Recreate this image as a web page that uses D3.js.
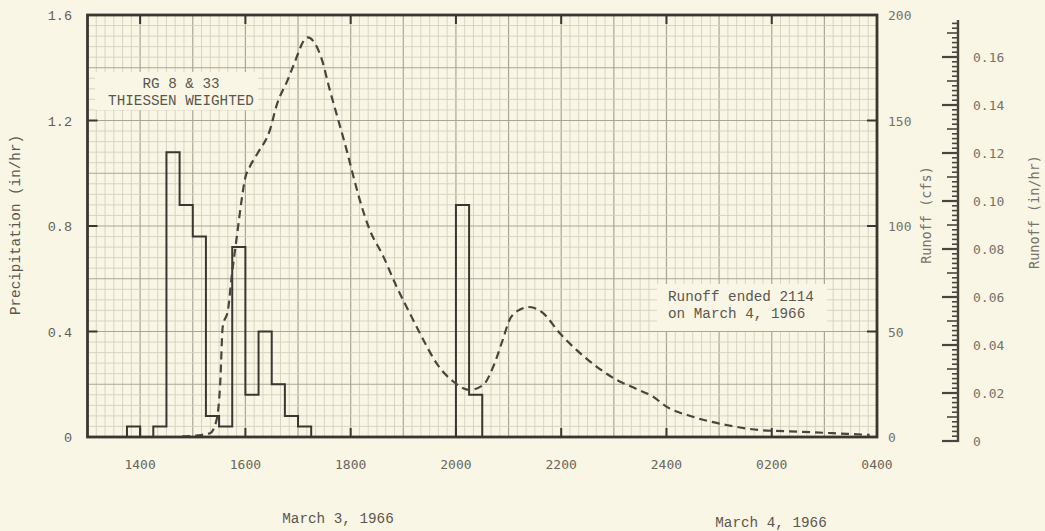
<!DOCTYPE html>
<html>
<head>
<meta charset="utf-8">
<script src="https://cdn.jsdelivr.net/npm/d3@7"></script>
<style>
  html, body { margin: 0; padding: 0; background: #faf6e5; }
  svg { display: block; }
</style>
</head>
<body>
<svg id="chart" width="1045" height="531"></svg>
<script>
// Precipitation, 15-minute rates (in/hr); hours past midnight of March 3
const precipHour = [13.5, 13.75, 14.0, 14.25, 14.5, 14.75, 15.0, 15.25, 15.5, 15.75,
                    16.0, 16.25, 16.5, 16.75, 17.0, 17.25, 20.0, 20.25, 20.5];
const precipRate = [0, 0.04, 0, 0.04, 1.08, 0.88, 0.76, 0.08, 0.04, 0.72,
                    0.16, 0.40, 0.20, 0.08, 0.04, 0, 0.88, 0.16, 0];

// Runoff hydrograph (cfs)
const runoffHour = [14.8, 15.1, 15.33, 15.46, 15.52, 15.57, 15.67, 15.74, 15.83, 15.93,
                    15.99, 16.09, 16.24, 16.47, 16.59, 16.81, 16.91, 17.18, 17.45, 17.60,
                    17.76, 17.92, 18.05, 18.17, 18.36, 18.62, 18.87, 19.12, 19.38, 19.63,
                    19.95, 20.26, 20.52, 20.71, 20.89, 21.02, 21.21, 21.40, 21.65, 21.97,
                    22.29, 22.67, 23.05, 23.43, 23.74, 24.0, 24.5, 25.14, 25.77, 26.53,
                    27.16, 27.86];
const runoffCfs  = [0.3, 0.8, 1.8, 8.9, 24.7, 52.4, 60.3, 76.2, 93.6, 112.6,
                    122.1, 128.4, 134.8, 145.8, 156.9, 169.6, 175.9, 189.4, 179.1, 164.8,
                    150.6, 136.3, 123.7, 112.6, 98.3, 85.6, 71.4, 58.8, 46.1, 35.0,
                    26.3, 22.3, 24.7, 33.4, 46.1, 55.6, 60.3, 61.6, 58.8, 49.3,
                    41.3, 33.4, 27.1, 22.8, 19.2, 14.4, 9.6, 5.7, 3.3, 2.5,
                    1.8, 1.0];

// Axis ticks and labels
const xTickHours  = [14, 16, 18, 20, 22, 24, 26, 28];
const xTickLabels = ["1400", "1600", "1800", "2000", "2200", "2400", "0200", "0400"];
const precipTicks = [0, 0.4, 0.8, 1.2, 1.6];
const precipTickLabels = ["0", "0.4", "0.8", "1.2", "1.6"];
const cfsTicks = [0, 50, 100, 150, 200];
const depthTicks = [0, 0.02, 0.04, 0.06, 0.08, 0.10, 0.12, 0.14, 0.16];
const depthTickLabels = ["0", "0.02", "0.04", "0.06", "0.08", "0.10", "0.12", "0.14", "0.16"];

const svg = d3.select("#chart");
const L = 87.5, R = 877, T = 15, B = 437;

const x = d3.scaleLinear().domain([13, 28]).range([L, R]);
const yP = d3.scaleLinear().domain([0, 1.6]).range([B, T]);
const yQ = d3.scaleLinear().domain([0, 200]).range([B, T]);
const yD = d3.scaleLinear().domain([0, 0.16]).range([441, 57]);

const mono = "'Liberation Mono', 'DejaVu Sans Mono', monospace";
const sansMono = "'DejaVu Sans Mono', 'Liberation Mono', monospace";

// background
svg.append("rect").attr("width", 1045).attr("height", 531).attr("fill", "#faf6e5");

// graph-paper grid: 10-minute by 0.04 in/hr cells, heavier every hour / 0.2 in/hr
const grid = svg.append("g");
const fineX = d3.range(13, 28.0001, 1 / 6);
const fineY = d3.range(0, 1.6001, 0.04);
const isHour = d => Math.abs(d - Math.round(d)) < 1e-6;
const isMajorY = d => Math.abs(d / 0.2 - Math.round(d / 0.2)) < 1e-6;
grid.selectAll("line.fx").data(fineX).join("line")
  .attr("x1", d => x(d)).attr("x2", d => x(d)).attr("y1", T).attr("y2", B)
  .attr("stroke", d => isHour(d) ? "#aaa594" : "#d5d0bd")
  .attr("stroke-width", d => isHour(d) ? 1.2 : 0.9);
grid.selectAll("line.fy").data(fineY).join("line")
  .attr("x1", L).attr("x2", R).attr("y1", d => yP(d)).attr("y2", d => yP(d))
  .attr("stroke", d => isMajorY(d) ? "#aaa594" : "#d5d0bd")
  .attr("stroke-width", d => isMajorY(d) ? 1.2 : 0.9);

// note panels
svg.append("rect").attr("x", 95).attr("y", 72).attr("width", 163).attr("height", 38).attr("fill", "#faf6e5");
svg.append("rect").attr("x", 657).attr("y", 284).attr("width", 170).attr("height", 47).attr("fill", "#faf6e5");

const noteStyle = sel => sel.attr("font-family", mono).attr("font-size", 14.3).attr("fill", "#5a564f");
svg.append("text").attr("x", 181).attr("y", 88).attr("text-anchor", "middle").text("RG 8 & 33").call(noteStyle);
svg.append("text").attr("x", 181).attr("y", 105).attr("text-anchor", "middle").text("THIESSEN WEIGHTED").call(noteStyle);
svg.append("text").attr("x", 668).attr("y", 301).text("Runoff ended 2114").call(noteStyle);
svg.append("text").attr("x", 668).attr("y", 318).text("on March 4, 1966").call(noteStyle);

// precipitation histogram
const stepLine = d3.line().x((d, i) => x(precipHour[i])).y(d => yP(d)).curve(d3.curveStepAfter);
svg.append("path").attr("d", stepLine(precipRate))
  .attr("fill", "none").attr("stroke", "#3a3631").attr("stroke-width", 2);

// runoff hydrograph
const runLine = d3.line().x((d, i) => x(runoffHour[i])).y(d => yQ(d)).curve(d3.curveMonotoneX);
svg.append("path").attr("d", runLine(runoffCfs))
  .attr("fill", "none").attr("stroke", "#48443e").attr("stroke-width", 2.2)
  .attr("stroke-dasharray", "8,5");

// frame
svg.append("rect").attr("x", L).attr("y", T).attr("width", R - L).attr("height", B - T)
  .attr("fill", "none").attr("stroke", "#3b3631").attr("stroke-width", 2.8);

// inward ticks on frame
const tk = svg.append("g").attr("stroke", "#3b3631").attr("stroke-width", 2);
tk.selectAll("line.bt").data(xTickHours.slice(0, -1)).join("line")
  .attr("x1", d => x(d)).attr("x2", d => x(d)).attr("y1", B).attr("y2", B - 9);
tk.selectAll("line.tt").data(xTickHours.slice(0, -1)).join("line")
  .attr("x1", d => x(d)).attr("x2", d => x(d)).attr("y1", T).attr("y2", T + 9);
tk.selectAll("line.lt").data(precipTicks.slice(1, -1)).join("line")
  .attr("x1", L).attr("x2", L + 10).attr("y1", d => yP(d)).attr("y2", d => yP(d));
tk.selectAll("line.rt").data(cfsTicks.slice(1, -1)).join("line")
  .attr("x1", R).attr("x2", R - 10).attr("y1", d => yQ(d)).attr("y2", d => yQ(d));

// left axis labels
svg.append("g").selectAll("text").data(precipTicks).join("text")
  .attr("x", 72).attr("y", d => yP(d) + 5).attr("text-anchor", "end")
  .attr("font-family", mono).attr("font-size", 13.5).attr("fill", "#625e57")
  .text((d, i) => precipTickLabels[i]);

// bottom axis labels
svg.append("g").selectAll("text").data(xTickHours).join("text")
  .attr("x", d => x(d)).attr("y", 469).attr("text-anchor", "middle")
  .attr("font-family", sansMono).attr("font-size", 13).attr("fill", "#6a665e")
  .text((d, i) => xTickLabels[i]);

// right cfs labels
svg.append("g").selectAll("text").data(cfsTicks).join("text")
  .attr("x", 888).attr("y", d => yQ(d) + 5)
  .attr("font-family", sansMono).attr("font-size", 13).attr("fill", "#77736a")
  .text(d => d);

// runoff depth ruler
const ruler = svg.append("g").attr("stroke", "#4a463f");
ruler.append("line").attr("x1", 958).attr("x2", 958).attr("y1", 20).attr("y2", 442).attr("stroke-width", 2.4);
const minor = d3.range(0, 0.1755, 0.002);
ruler.selectAll("line.m").data(minor).join("line")
  .attr("x1", 958)
  .attr("x2", d => {
    const k = Math.round(d / 0.002);
    return k % 10 === 0 ? 942 : (k % 5 === 0 ? 947 : 952);
  })
  .attr("y1", d => yD(d)).attr("y2", d => yD(d))
  .attr("stroke-width", d => Math.round(d / 0.002) % 10 === 0 ? 2.2 : 1.6);

svg.append("g").selectAll("text").data(depthTicks).join("text")
  .attr("x", 973).attr("y", d => yD(d) + 5)
  .attr("font-family", sansMono).attr("font-size", 13).attr("fill", "#77736a")
  .text((d, i) => depthTickLabels[i]);

// axis titles
svg.append("text").attr("transform", "translate(20,225) rotate(-90)")
  .attr("text-anchor", "middle").attr("font-family", mono).attr("font-size", 14.3)
  .attr("fill", "#5a564f").text("Precipitation (in/hr)");
svg.append("text").attr("transform", "translate(931,215) rotate(-90)")
  .attr("text-anchor", "middle").attr("font-family", sansMono).attr("font-size", 13.5)
  .attr("fill", "#77736a").text("Runoff (cfs)");
svg.append("text").attr("transform", "translate(1039,212) rotate(-90)")
  .attr("text-anchor", "middle").attr("font-family", sansMono).attr("font-size", 13.5)
  .attr("fill", "#77736a").text("Runoff (in/hr)");

// date captions
svg.append("text").attr("x", 338).attr("y", 523).attr("text-anchor", "middle")
  .attr("font-family", mono).attr("font-size", 14.3).attr("fill", "#5a564f").text("March 3, 1966");
svg.append("text").attr("x", 771).attr("y", 527).attr("text-anchor", "middle")
  .attr("font-family", mono).attr("font-size", 14.3).attr("fill", "#5a564f").text("March 4, 1966");
</script>
</body>
</html>
